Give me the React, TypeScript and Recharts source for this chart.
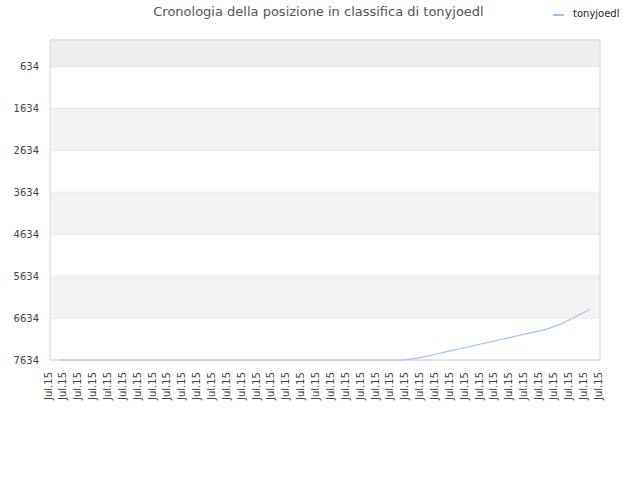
import { LineChart, Line, XAxis, YAxis, CartesianGrid, ReferenceArea } from 'recharts';

// one label per snapshot, all taken the same month
const dates = [
  'Jul.15', 'Jul.15', 'Jul.15', 'Jul.15', 'Jul.15', 'Jul.15', 'Jul.15', 'Jul.15',
  'Jul.15', 'Jul.15', 'Jul.15', 'Jul.15', 'Jul.15', 'Jul.15', 'Jul.15', 'Jul.15',
  'Jul.15', 'Jul.15', 'Jul.15', 'Jul.15', 'Jul.15', 'Jul.15', 'Jul.15', 'Jul.15',
  'Jul.15', 'Jul.15', 'Jul.15', 'Jul.15', 'Jul.15', 'Jul.15', 'Jul.15', 'Jul.15',
  'Jul.15', 'Jul.15', 'Jul.15', 'Jul.15', 'Jul.15', 'Jul.15',
];

const ranks = [
  7634, 7634, 7634, 7634, 7634, 7634, 7634, 7634, 7634, 7634,
  7634, 7634, 7634, 7634, 7634, 7634, 7634, 7634, 7634, 7634,
  7634, 7634, 7634, 7634, 7634, 7591, 7514, 7436, 7359, 7282,
  7205, 7127, 7050, 6973, 6896, 6769, 6603, 6423,
];

const rankTicks = [634, 1634, 2634, 3634, 4634, 5634, 6634, 7634];
const shadedBands = [
  [0, 634],
  [1634, 2634],
  [3634, 4634],
  [5634, 6634],
];

const data = dates.map((date, i) => ({ date, rank: ranks[i] }));

const FONT = '"DejaVu Sans", sans-serif';
const LINE_COLOR = '#99c4f2';

function DateTick({ x, y, payload }: any) {
  return (
    <text
      x={x}
      y={y}
      dy="0.15em"
      transform={`rotate(-90 ${x} ${y})`}
      textAnchor="end"
      fontSize={10}
      fontFamily={FONT}
      fill="#444"
    >
      {payload.value}
    </text>
  );
}

export default function App() {
  return (
    <div style={{ position: 'absolute', left: 0, top: 0, width: 640, height: 480, background: '#fff' }}>
      <div
        style={{
          position: 'absolute',
          top: 5,
          left: 0,
          width: 637,
          textAlign: 'center',
          fontFamily: FONT,
          fontSize: 13,
          lineHeight: '13px',
          color: '#555',
        }}
      >
        Cronologia della posizione in classifica di tonyjoedl
      </div>
      <div style={{ position: 'absolute', top: 9, left: 553, display: 'flex', alignItems: 'center' }}>
        <div style={{ width: 11, height: 2, background: LINE_COLOR, marginRight: 9, marginTop: 2 }} />
        <span style={{ fontFamily: FONT, fontSize: 10, lineHeight: '10px', color: '#222' }}>tonyjoedl</span>
      </div>
      <LineChart width={640} height={480} data={data} margin={{ top: 40, right: 40, bottom: 0, left: 0 }}>
        {shadedBands.map(([from, to], i) => (
          <ReferenceArea
            key={i}
            y1={from}
            y2={to}
            fill={i === 0 ? '#eeeeee' : '#f2f2f2'}
            fillOpacity={1}
            stroke="none"
          />
        ))}
        <CartesianGrid vertical={false} stroke="#e0e0e0" />
        <ReferenceArea y1={0} y2={7634} fill="none" stroke="#d8d8d8" strokeWidth={1} />
        <XAxis
          dataKey="date"
          interval={0}
          height={120}
          axisLine={false}
          tickLine={false}
          tickMargin={6}
          tick={<DateTick />}
        />
        <XAxis xAxisId="line" dataKey="date" hide padding={{ left: 10, right: 10 }} />
        <YAxis
          reversed
          domain={[0, 7634]}
          ticks={rankTicks}
          interval={0}
          width={50}
          axisLine={false}
          tickLine={false}
          tickSize={0}
          tickMargin={11}
          tick={{ fontSize: 10, fontFamily: FONT, fill: '#444' }}
        />
        <Line
          xAxisId="line"
          type="linear"
          dataKey="rank"
          stroke={LINE_COLOR}
          strokeWidth={1.2}
          dot={false}
          isAnimationActive={false}
        />
      </LineChart>
    </div>
  );
}
